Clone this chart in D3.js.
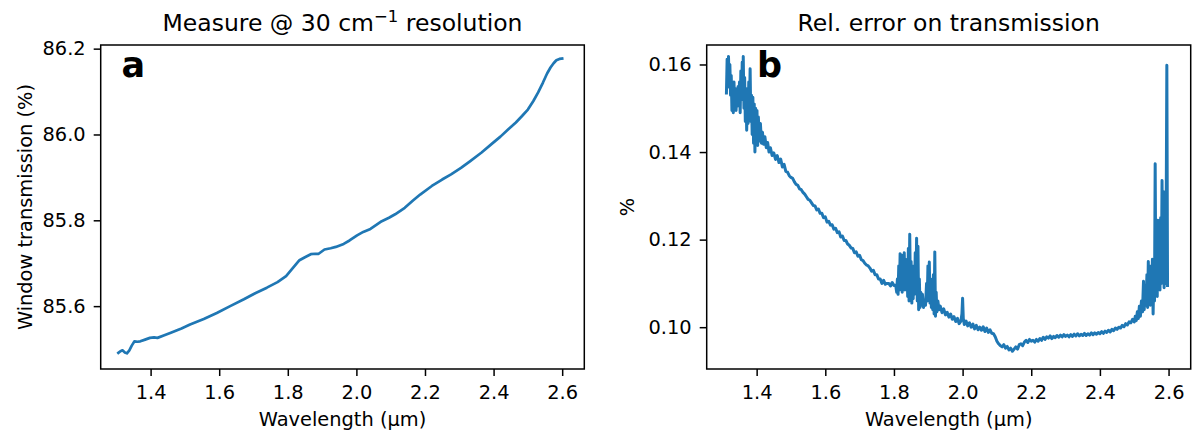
<!DOCTYPE html>
<html>
<head>
<meta charset="utf-8">
<script src="https://cdn.jsdelivr.net/npm/d3@7"></script>
<style>
  html, body { margin: 0; padding: 0; background: #fff; }
  svg { display: block; }
  text { font-family: "DejaVu Sans", sans-serif; fill: #000; }
</style>
</head>
<body>
<svg id="chart" width="1193" height="432"></svg>
<script>
// ---------- data ----------
const waveA = [1.306,1.312,1.318,1.325,1.331,1.338,1.345,1.353,1.362,1.370,1.384,1.398,1.410,1.420,1.440,1.459,1.490,1.515,1.555,1.593,1.632,1.672,1.705,1.739,1.770,1.795,1.812,1.834,1.850,1.867,1.880,1.890,1.907,1.925,1.940,1.963,1.980,2.002,2.020,2.041,2.074,2.095,2.113,2.141,2.165,2.186,2.220,2.250,2.276,2.305,2.332,2.365,2.399,2.420,2.443,2.465,2.483,2.500,2.516,2.530,2.544,2.556,2.566,2.575,2.583,2.592,2.600];
const transA = [85.491,85.495,85.497,85.492,85.490,85.497,85.508,85.518,85.517,85.518,85.522,85.526,85.527,85.526,85.532,85.538,85.548,85.557,85.570,85.584,85.600,85.616,85.630,85.643,85.656,85.670,85.686,85.707,85.714,85.721,85.722,85.722,85.732,85.735,85.738,85.745,85.753,85.765,85.773,85.780,85.798,85.806,85.814,85.829,85.846,85.860,85.880,85.895,85.907,85.922,85.938,85.958,85.981,85.995,86.012,86.028,86.043,86.058,86.078,86.098,86.121,86.142,86.156,86.166,86.173,86.176,86.177];

const waveB = [
1.312,1.314,1.316,1.318,1.320,1.322,1.324,1.326,1.328,1.330,1.332,1.334,1.336,1.338,1.340,1.342,1.344,1.346,1.348,1.350,
1.352,1.354,1.356,1.358,1.360,1.361,1.363,1.365,1.367,1.369,1.371,1.373,1.375,1.377,1.379,1.381,1.383,1.385,1.387,1.389,
1.391,1.393,1.395,1.397,1.399,1.401,1.403,1.405,1.408,1.411,1.414,1.417,1.420,1.424,1.428,1.432,1.436,1.440,1.445,1.450,
1.455,1.460,1.465,1.470,1.475,1.480,1.485,1.490,1.495,1.500,1.505,1.510,1.515,1.520,1.525,1.530,1.535,1.540,1.545,1.550,
1.555,1.560,1.565,1.570,1.575,1.580,1.585,1.590,1.595,1.600,1.605,1.610,1.615,1.620,1.625,1.630,1.635,1.640,1.645,1.650,
1.655,1.660,1.665,1.670,1.675,1.680,1.685,1.690,1.695,1.700,1.705,1.710,1.715,1.720,1.725,1.730,1.735,1.740,1.745,1.750,
1.755,1.760,1.765,1.770,1.775,1.780,1.785,1.790,1.795,1.800,1.805,
1.808,1.810,1.812,1.814,1.816,1.818,1.820,1.822,1.824,1.826,1.828,1.830,1.832,1.834,1.836,1.838,1.840,1.842,1.844,1.846,
1.848,1.850,1.852,1.854,1.856,1.858,1.860,1.862,1.864,1.866,1.868,1.870,1.872,1.874,1.876,1.878,1.880,1.883,1.886,1.889,
1.892,1.895,1.897,1.899,1.901,1.903,1.905,1.907,1.909,1.911,1.913,1.915,1.917,1.919,1.921,1.923,1.925,1.928,1.931,1.935,
1.940,1.945,1.950,1.955,1.960,1.965,1.970,1.975,1.980,1.985,1.990,1.995,1.998,2.000,2.002,2.005,2.010,2.015,2.020,2.025,
2.030,2.035,2.040,2.045,2.050,2.055,2.060,2.065,2.070,2.075,2.080,2.085,2.090,2.095,2.100,2.105,2.110,2.115,2.120,2.125,
2.130,2.135,2.140,2.145,2.150,2.155,2.160,2.165,2.170,2.175,2.180,2.185,2.190,2.195,2.200,2.205,2.210,2.215,2.220,2.225,
2.230,2.235,2.240,2.245,2.250,2.255,2.260,2.265,2.270,2.275,2.280,2.285,2.290,2.295,2.300,2.305,2.310,2.315,2.320,2.325,
2.330,2.335,2.340,2.345,2.350,2.355,2.360,2.365,2.370,2.375,2.380,2.385,2.390,2.395,2.400,2.405,2.410,2.415,2.420,2.425,
2.430,2.435,2.440,2.445,2.450,2.455,2.460,2.465,2.470,2.475,2.480,2.485,2.490,2.495,2.500,2.503,2.506,2.509,2.512,2.515,
2.518,2.521,2.524,2.527,2.529,2.532,2.534,2.537,2.539,2.541,2.543,2.545,2.547,2.549,2.551,2.553,2.555,2.557,2.559,2.561,
2.563,2.565,2.567,2.569,2.571,2.573,2.575,2.577,2.579,2.581,2.583,2.585,2.587,2.589,2.591,2.593,2.595,2.597];

const errB = [
0.1535,0.1612,0.1560,0.1618,0.1548,0.1600,0.1530,0.1575,0.1495,0.1540,0.1490,0.1560,0.1500,0.1545,0.1495,0.1530,0.1505,0.1550,0.1510,0.1560,
0.1490,0.1585,0.1520,0.1605,0.1530,0.1618,0.1500,0.1570,0.1470,0.1545,0.1450,0.1530,0.1465,0.1560,0.1480,0.1590,0.1470,0.1530,0.1440,0.1525,
0.1420,0.1510,0.1400,0.1500,0.1430,0.1495,0.1415,0.1480,0.1425,0.1465,0.1420,0.1445,0.1418,0.1435,0.1410,0.1422,0.1400,0.1410,0.1392,0.1398,
0.1383,0.1392,0.1376,0.1384,0.1366,0.1372,0.1356,0.1354,0.1346,0.1342,0.1340,0.1332,0.1326,0.1324,0.1316,0.1314,0.1308,0.1304,0.1298,0.1292,
0.1290,0.1284,0.1278,0.1277,0.1268,0.1270,0.1260,0.1260,0.1250,0.1252,0.1240,0.1242,0.1233,0.1234,0.1224,0.1226,0.1216,0.1218,0.1206,0.1208,
0.1198,0.1198,0.1190,0.1187,0.1181,0.1180,0.1170,0.1172,0.1162,0.1164,0.1154,0.1152,0.1146,0.1142,0.1140,0.1135,0.1128,0.1130,0.1120,0.1120,
0.1110,0.1110,0.1100,0.1107,0.1098,0.1100,0.1100,0.1094,0.1102,0.1095,0.1096,
0.1080,0.1110,0.1075,0.1140,0.1085,0.1168,0.1095,0.1165,0.1080,0.1150,0.1100,0.1170,0.1085,0.1155,0.1090,0.1140,0.1070,0.1180,0.1060,0.1212,
0.1080,0.1150,0.1055,0.1120,0.1065,0.1140,0.1075,0.1170,0.1090,0.1203,0.1060,0.1185,0.1040,0.1110,0.1045,0.1080,0.1050,0.1075,0.1045,0.1060,
0.1050,0.1100,0.1060,0.1140,0.1070,0.1149,0.1055,0.1110,0.1045,0.1080,0.1040,0.1120,0.1030,0.1172,0.1025,0.1080,0.1035,0.1060,0.1040,0.1048,
0.1033,0.1042,0.1028,0.1034,0.1023,0.1030,0.1018,0.1024,0.1013,0.1020,0.1008,0.1014,0.1030,0.1066,0.1020,0.1006,0.1014,0.1003,0.1010,0.1000,
0.1007,0.0996,0.1004,0.0994,0.1000,0.0993,0.1001,0.0990,0.0998,0.0988,0.0994,0.0986,0.0985,0.0978,0.0968,0.0962,0.0958,0.0955,0.0960,0.0952,
0.0956,0.0948,0.0952,0.0945,0.0950,0.0955,0.0950,0.0960,0.0962,0.0958,0.0966,0.0970,0.0965,0.0972,0.0968,0.0970,0.0966,0.0972,0.0968,0.0974,
0.0970,0.0977,0.0972,0.0978,0.0975,0.0980,0.0974,0.0979,0.0976,0.0981,0.0977,0.0982,0.0978,0.0983,0.0979,0.0982,0.0978,0.0983,0.0979,0.0984,
0.0980,0.0985,0.0980,0.0984,0.0981,0.0986,0.0981,0.0985,0.0982,0.0987,0.0983,0.0987,0.0984,0.0988,0.0985,0.0990,0.0986,0.0991,0.0988,0.0993,
0.0989,0.0995,0.0992,0.0998,0.0995,0.1000,0.0998,0.1004,0.1001,0.1008,0.1005,0.1012,0.1010,0.1018,0.1012,0.1025,0.1015,0.1035,0.1020,0.1048,
0.1025,0.1060,0.1035,0.1105,0.1040,0.1080,0.1050,0.1120,0.1045,0.1150,0.1060,0.1100,0.1050,0.1140,0.1085,0.1155,0.1030,0.1120,0.1060,0.1373,
0.1080,0.1200,0.1070,0.1244,0.1100,0.1220,0.1085,0.1250,0.1100,0.1335,0.1150,0.1310,0.1090,0.1200,0.1100,0.1250,0.1598,0.1095];

const xTicks = [1.4, 1.6, 1.8, 2.0, 2.2, 2.4, 2.6];
const yTicksA = [85.6, 85.8, 86.0, 86.2];
const yTicksB = [0.10, 0.12, 0.14, 0.16];
const xDomain = [1.2545, 2.6645];
const yDomainA = [85.4535, 86.2085];
const yDomainB = [0.09045, 0.16445];

// ---------- layout ----------
const svg = d3.select("#chart");
svg.append("rect").attr("width", 1193).attr("height", 432).attr("fill", "#fff");

const plotTop = 45, plotBottom = 369;
const lineColor = "#1f77b4";

function drawPanel(opts) {
  const g = svg.append("g");
  const x = d3.scaleLinear().domain(xDomain).range([opts.left, opts.right]);
  const y = d3.scaleLinear().domain(opts.yDomain).range([plotBottom, plotTop]);

  const pts = d3.zip(opts.xs, opts.ys);
  g.append("path")
    .datum(pts)
    .attr("fill", "none")
    .attr("stroke", lineColor)
    .attr("stroke-width", opts.lw)
    .attr("stroke-linejoin", "round")
    .attr("stroke-linecap", "square")
    .attr("d", d3.line().x(d => x(d[0])).y(d => y(d[1])));

  const xa = g.append("g").attr("transform", `translate(0,${plotBottom})`)
    .call(d3.axisBottom(x).tickValues(xTicks).tickFormat(d3.format(".1f")).tickSize(7).tickPadding(9).tickSizeOuter(0));
  const ya = g.append("g").attr("transform", `translate(${opts.left},0)`)
    .call(d3.axisLeft(y).tickValues(opts.yTicks).tickFormat(d3.format(opts.yFmt)).tickSize(7).tickPadding(8).tickSizeOuter(0));
  [xa, ya].forEach(a => {
    a.select(".domain").remove();
    a.selectAll(".tick line").attr("stroke", "#000").attr("stroke-width", 1.5);
    a.selectAll(".tick text").attr("font-size", 19.4).attr("font-family", "DejaVu Sans").attr("fill", "#000");
  });

  g.append("rect")
    .attr("x", opts.left).attr("y", plotTop)
    .attr("width", opts.right - opts.left).attr("height", plotBottom - plotTop)
    .attr("fill", "none").attr("stroke", "#000").attr("stroke-width", 1.5);

  const cx = (opts.left + opts.right) / 2;
  g.append("text").attr("x", cx).attr("y", 426).attr("text-anchor", "middle")
    .attr("font-size", 19.4).text("Wavelength (µm)");
  g.append("text").attr("transform", `translate(${opts.ylabelX},${(plotTop + plotBottom) / 2}) rotate(-90)`)
    .attr("text-anchor", "middle").attr("font-size", 19.4).text(opts.ylabel);
  const t = g.append("text").attr("x", cx).attr("y", 31).attr("text-anchor", "middle").attr("font-size", 23.5);
  opts.title(t);
  g.append("text").attr("x", opts.letterX).attr("y", 76.5)
    .attr("font-size", 35).attr("font-weight", "bold").text(opts.letter);
}

drawPanel({
  left: 100.7, right: 584.3, yDomain: yDomainA, yTicks: yTicksA, yFmt: ".1f",
  xs: waveA, ys: transA, lw: 2.7,
  ylabel: "Window transmission (%)", ylabelX: 32,
  letter: "a", letterX: 121.5,
  title: t => {
    t.append("tspan").text("Measure @ 30 cm");
    t.append("tspan").attr("font-size", 16.5).attr("dy", -9).text("\u22121");
    t.append("tspan").attr("dy", 9).text(" resolution");
  }
});

drawPanel({
  left: 706.7, right: 1190.7, yDomain: yDomainB, yTicks: yTicksB, yFmt: ".2f",
  xs: waveB, ys: errB, lw: 3,
  ylabel: "%", ylabelX: 634,
  letter: "b", letterX: 757,
  title: t => t.text("Rel. error on transmission")
});
</script>
</body>
</html>
